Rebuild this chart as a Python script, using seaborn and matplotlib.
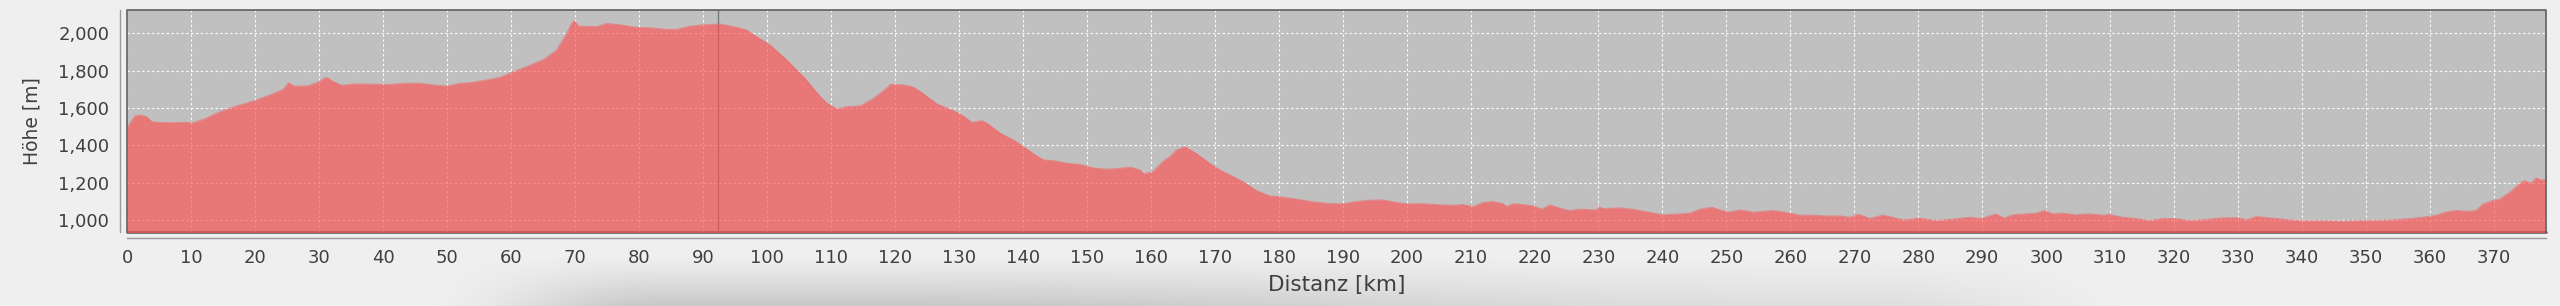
import matplotlib
matplotlib.use("Agg")
import matplotlib.pyplot as plt
import numpy as np
import pandas as pd
import seaborn as sns

# ---------------- data ----------------
distance_km = [
    0.0, 0.4, 1.2, 2.0, 3.0, 3.8, 4.6, 6.7, 9.3, 10.0, 11.9, 14.5, 17.1, 19.7,
    22.3, 24.4, 25.2, 26.0, 28.1, 29.6, 31.1, 32.2, 33.5, 35.3, 37.9, 40.5,
    43.6, 45.7, 48.3, 50.0, 52.0, 53.6, 56.2, 58.3, 60.0, 62.4, 65.1, 67.1,
    68.7, 69.5, 69.9, 70.5, 73.4, 74.9, 77.0, 79.6, 82.2, 84.3, 85.9, 88.0,
    90.1, 92.7, 95.3, 96.8, 98.4, 100.5, 103.1, 105.7, 108.3, 109.4, 110.9,
    112.5, 114.6, 116.7, 118.8, 119.3, 121.4, 122.7, 124.0, 126.6, 129.2,
    130.7, 132.0, 133.6, 134.4, 136.5, 138.5, 140.1, 141.7, 143.2, 144.8,
    146.9, 149.0, 151.0, 153.1, 155.2, 156.8, 158.3, 158.9, 160.3, 161.9,
    163.0, 164.0, 165.3, 167.1, 169.2, 170.8, 173.4, 174.4, 176.5, 178.6,
    179.9, 182.8, 185.4, 188.0, 190.0, 192.1, 194.2, 196.3, 198.4, 199.9,
    202.0, 204.6, 207.2, 208.8, 210.4, 211.9, 213.5, 215.1, 215.6, 216.6,
    217.7, 219.8, 221.1, 222.4, 224.0, 225.5, 227.1, 229.7, 230.1, 230.7,
    233.3, 235.4, 237.5, 240.1, 242.7, 244.3, 245.8, 247.7, 249.0, 250.3,
    252.1, 254.2, 257.3, 259.4, 261.5, 263.5, 265.6, 267.7, 269.3, 270.6,
    272.4, 274.4, 276.0, 277.6, 280.2, 282.8, 285.4, 288.0, 289.8, 291.1,
    292.1, 293.4, 294.7, 296.8, 298.4, 299.7, 301.0, 302.6, 304.6, 306.7,
    308.8, 309.8, 311.9, 314.0, 316.1, 318.2, 320.2, 322.3, 324.4, 325.5,
    327.6, 330.0, 331.3, 332.8, 334.9, 337.0, 339.1, 341.1, 343.8, 346.4,
    349.0, 351.6, 354.2, 356.8, 358.9, 361.0, 362.6, 364.1, 365.7, 367.2,
    368.3, 369.8, 370.9, 372.4, 374.0, 374.7, 375.8, 376.6, 377.3, 378.0,
]
elevation_m = [
    1496, 1519, 1558, 1563, 1554, 1528, 1524, 1522, 1524, 1519, 1540, 1581,
    1612, 1638, 1670, 1701, 1736, 1718, 1718, 1736, 1765, 1742, 1722, 1729,
    1729, 1726, 1733, 1733, 1722, 1718, 1733, 1736, 1751, 1765, 1790, 1822,
    1861, 1911, 2000, 2057, 2068, 2039, 2036, 2053, 2046, 2032, 2029, 2021,
    2021, 2039, 2046, 2050, 2032, 2018, 1982, 1938, 1857, 1768, 1663, 1626,
    1596, 1608, 1612, 1653, 1711, 1727, 1724, 1715, 1688, 1622, 1585, 1558,
    1524, 1533, 1519, 1465, 1430, 1394, 1355, 1323, 1319, 1305, 1298, 1280,
    1273, 1278, 1284, 1269, 1248, 1260, 1314, 1341, 1376, 1394, 1358, 1305,
    1269, 1225, 1207, 1159, 1130, 1127, 1113, 1098, 1089, 1088, 1100, 1107,
    1109, 1095, 1088, 1089, 1084, 1080, 1084, 1073, 1095, 1100, 1088, 1073,
    1088, 1086, 1077, 1059, 1082, 1064, 1052, 1059, 1055, 1073, 1062, 1066,
    1059, 1045, 1029, 1034, 1038, 1059, 1070, 1055, 1043, 1055, 1043, 1052,
    1041, 1027, 1027, 1023, 1023, 1016, 1032, 1010, 1027, 1016, 1002, 1011,
    998, 1006, 1016, 1009, 1023, 1034, 1011, 1029, 1034, 1038, 1052, 1034,
    1038, 1029, 1034, 1027, 1031, 1016, 1009, 998, 1009, 1009, 998, 1002,
    1006, 1013, 1013, 1002, 1020, 1013, 1006, 998, 997, 997, 995, 998, 998,
    1002, 1009, 1016, 1027, 1045, 1052, 1048, 1052, 1088, 1105, 1113, 1148,
    1195, 1212, 1198, 1227, 1216, 1216,
]
x_ticks = list(range(0, 371, 10))
x_tick_labels = [str(v) for v in x_ticks]
y_ticks = [1000, 1200, 1400, 1600, 1800, 2000]
y_tick_labels = ["1,000", "1,200", "1,400", "1,600", "1,800", "2,000"]
marker_km = 92.4
x_label = "Distanz [km]"
y_label = "Höhe [m]"

df = pd.DataFrame({"dist": distance_km, "elev": elevation_m})

# ---------------- style ----------------
sns.set_style("white")
plt.rcParams["font.family"] = ["DejaVu Sans"]

W, H = 2560, 306
fig = plt.figure(figsize=(W / 100, H / 100), dpi=100, facecolor="#efefef")

# soft page shadow behind the x-axis title (background decoration)
bg = fig.add_axes([0, 0, 1, 1], zorder=-5)
bg.set_axis_off()
xs = np.arange(W)[None, :]
ys = np.arange(H)[:, None]
v = np.clip((ys - 255) / 51.0, 0, 1) ** 1.2
def _smooth(t):
    t = np.clip(t, 0, 1)
    return t * t * (3 - 2 * t)
h = _smooth((xs - 420) / 240.0) * (1 - 0.55 * _smooth((xs - 900) / 900.0)) \
    * (1 - _smooth((xs - 1850) / 300.0))
alpha = 0.32 * v * h
rgba = np.zeros((H, W, 4))
rgba[..., :3] = 0.45
rgba[..., 3] = alpha
bg.imshow(rgba, extent=(0, W, H, 0), aspect="auto", interpolation="bilinear")
bg.set_xlim(0, W)
bg.set_ylim(H, 0)

ax = fig.add_axes([127.3 / W, 1 - 232 / H, (2546.4 - 127.3) / W, 222 / H])
ax.set_facecolor("#c0c0c0")
ax.set_axisbelow(True)

fill_col = "#ff5050"
ymin, ymax = 937, 2125
ax.fill_between(df["dist"], df["elev"], ymin - 50, color=fill_col, alpha=0.65, lw=0, zorder=2)
sns.lineplot(data=df, x="dist", y="elev", ax=ax, color=fill_col, alpha=0.45, lw=0.8, zorder=2.1)

# marker line (under the fill)
ax.axvline(marker_km, color="#7a7a7a", lw=1.0, zorder=1.5)

ax.set_xlim(0, 378.2)
ax.set_ylim(ymin, ymax)
ax.set_xticks(x_ticks)
ax.set_xticklabels(x_tick_labels)
ax.set_yticks(y_ticks)
ax.set_yticklabels(y_tick_labels)

ax.grid(True, color="white", ls=(0, (2.2, 2.2)), lw=0.8, alpha=0.95)

# frame and offset axis lines
for s in ["top", "right"]:
    ax.spines[s].set_visible(False)
ax.spines["left"].set_position(("outward", 5))
ax.spines["bottom"].set_position(("outward", 4.5))
for s in ["left", "bottom"]:
    ax.spines[s].set_color("#9a9a9a")
    ax.spines[s].set_linewidth(1.0)

ax.plot([0, 0, 1, 1], [0, 1, 1, 0], transform=ax.transAxes, color="#5f5f5f",
        lw=1.2, clip_on=False, zorder=6)
ax.plot([0, 1], [0, 0], transform=ax.transAxes, color="#6a6a6a",
        lw=2.0, clip_on=False, zorder=1.6)

ax.tick_params(axis="both", length=2.5, width=0.8, color="#8c8c8c",
               labelcolor="#3f3f3f", labelsize=13)
ax.tick_params(axis="x", pad=5.0)
ax.tick_params(axis="y", pad=5.5)

ax.set_xlabel(x_label, fontsize=15.5, color="#3f3f3f")
ax.set_ylabel(y_label, fontsize=13.5, color="#3f3f3f")
ax.xaxis.set_label_coords(0.5, -(285 - 232) / 222)
ax.xaxis.label.set_va("center")
ax.yaxis.set_label_coords((32 - 127.3) / 2419.1, 0.5)
ax.yaxis.label.set_va("center")
ax.yaxis.label.set_ha("center")

fig.savefig("out.png", dpi=100, facecolor=fig.get_facecolor())
